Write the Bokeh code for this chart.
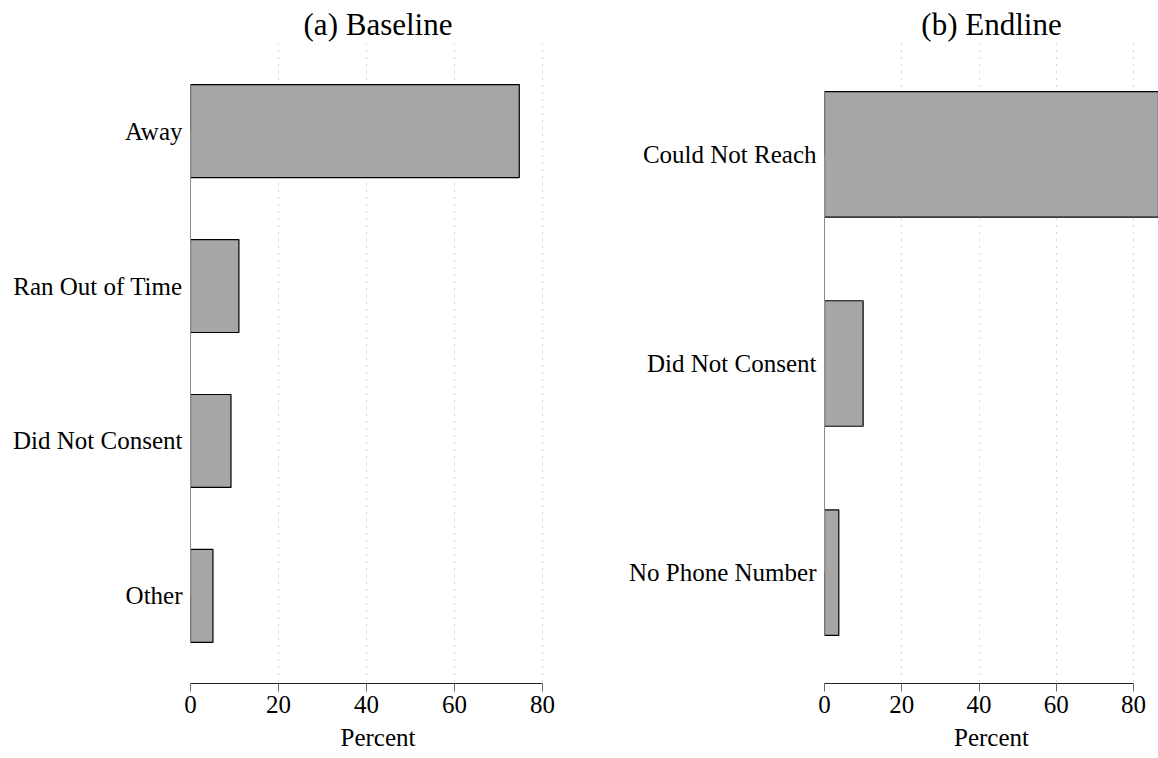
from bokeh.plotting import figure
from bokeh.models import Range1d, FixedTicker, ColumnDataSource, Title
from bokeh.layouts import row
from bokeh.embed import file_html
from bokeh.resources import INLINE

# Data
baseline_cats = ["Away", "Ran Out of Time", "Did Not Consent", "Other"]
baseline_pct = [74.7, 11.0, 9.2, 5.1]
endline_cats = ["Could Not Reach", "Did Not Consent", "No Phone Number"]
endline_pct = [86.6, 10.0, 3.7]
x_ticks = [0, 20, 40, 60, 80]
titles = ["(a) Baseline", "(b) Endline"]
x_label = "Percent"

FONT = "Liberation Serif"


def make_panel(title, cats, vals, width, border_left, border_right, x_end, pad, shift):
    n = len(cats)
    pos = list(range(1, n + 1))
    src = ColumnDataSource(dict(y=pos, right=vals, label=cats))
    p = figure(width=width, height=758, output_backend="svg", toolbar_location=None,
               x_range=Range1d(0, x_end), y_range=Range1d(n + pad, 1 - pad),
               min_border_left=border_left, min_border_right=border_right,
               min_border_top=43, min_border_bottom=75)
    p.hbar(y="y", left=0, right="right", height=0.6, source=src,
           fill_color="#a6a6a6", line_color="black", line_width=1.2)
    p.title.text = title
    p.title.text_font = FONT
    p.title.text_font_size = "31px"
    p.title.text_font_style = "normal"
    p.title.text_color = "black"
    p.title.align = "center"
    p.title.offset = shift
    p.title.standoff = 4
    p.outline_line_color = None
    p.background_fill_color = "white"

    # x axis
    xa = p.xaxis[0]
    xa.ticker = FixedTicker(ticks=x_ticks)
    xa.bounds = (x_ticks[0], x_ticks[-1])
    xa.major_label_text_font = FONT
    xa.major_label_text_font_size = "25px"
    xa.major_label_text_color = "black"
    xa.major_label_standoff = 4
    xa.axis_line_color = "#222222"
    xa.major_tick_line_color = "#666666"
    xa.major_tick_out = 8
    xa.major_tick_in = 0
    xa.minor_tick_line_color = None
    p.add_layout(Title(text=x_label, align="center", offset=shift,
                       text_font=FONT, text_font_size="25px",
                       text_font_style="normal", text_color="black",
                       standoff=13), "below")

    # y axis
    ya = p.yaxis[0]
    ya.ticker = FixedTicker(ticks=pos)
    ya.major_label_overrides = {i: c for i, c in zip(pos, cats)}
    ya.bounds = (1, n)
    ya.major_label_text_font = FONT
    ya.major_label_text_font_size = "25px"
    ya.major_label_text_color = "black"
    ya.major_label_standoff = 8
    ya.axis_line_color = "#8c8c8c"
    ya.major_tick_line_color = None
    ya.major_tick_out = 0
    ya.major_tick_in = 0
    ya.minor_tick_line_color = None

    p.ygrid.grid_line_color = None
    p.xgrid.ticker = FixedTicker(ticks=x_ticks)
    p.xgrid.grid_line_color = "#a8a8a8"
    p.xgrid.grid_line_dash = "1 6"
    p.xgrid.grid_line_width = 1
    return p


p1 = make_panel(titles[0], baseline_cats, baseline_pct, 600, 190, 35, 85.2, 0.565, 0)
p2 = make_panel(titles[1], endline_cats, endline_pct, 558, 224, 0, 86.47, 0.53, 10)

layout = row(p1, p2)
open("out.html", "w").write(file_html(layout, INLINE))
